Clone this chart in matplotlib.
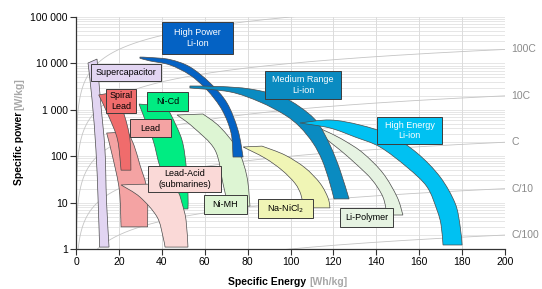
import numpy as np
import matplotlib
matplotlib.use("Agg")
import matplotlib.pyplot as plt
from matplotlib.patches import PathPatch, Rectangle
from matplotlib.path import Path
from matplotlib.ticker import FixedLocator, LogLocator, NullFormatter

plt.rcParams['font.family'] = ['Liberation Sans', 'DejaVu Sans']

# ---------------- data ----------------
x_ticks = [0, 20, 40, 60, 80, 100, 120, 140, 160, 180, 200]
y_ticks = [1, 10, 100, 1000, 10000, 100000]
y_tick_labels = ['1', '10', '100', '1 000', '10 000', '100 000']

rate_values = [1000, 100, 10, 1, 0.1, 0.01]
rate_labels = ['', '100C', '10C', 'C', 'C/10', 'C/100']

# technology regions: two boundary edges, each from top end to bottom end
# points are (specific energy Wh/kg, specific power W/kg)
supercap_a = [(5.6, 10200), (7.5, 1630), (9.3, 136), (10.3, 11.4), (11.0, 1.1)]
supercap_b = [(9.8, 12400), (11.4, 1630), (13.5, 136), (14.2, 11.4), (15.4, 1.1)]

lead_a = [(14.3, 316), (17.1, 96), (20.2, 18.7), (21.0, 3.0)]
lead_b = [(24.2, 333), (27.0, 174), (29.8, 65), (33.1, 18.7), (33.4, 3.0)]

spiral_a = [(10.6, 2090), (15.4, 700), (19.4, 223), (21.0, 50)]
spiral_b = [(15.9, 2300), (19.6, 1630), (22.8, 700), (25.2, 223), (25.6, 50)]

ni_cd_a = [(29.4, 1330), (31.7, 700), (35.9, 223), (39.2, 58), (43.8, 16.9), (47.6, 7.3)]
ni_cd_b = [(42.0, 1210), (44.8, 700), (49.4, 223), (51.3, 65), (52.2, 16.9), (52.2, 7.3)]

lead_sub_a = [(21.0, 24), (34.5, 25), (43.8, 23), (47.6, 16.9), (49.4, 9.8),
              (51.3, 4.2), (52.2, 1.1)]
lead_sub_b = [(21.0, 24), (29.8, 13.2), (37.8, 4.9), (40.6, 1.8), (41.5, 1.1)]

ni_mh_a = [(59.2, 811), (67.1, 426), (75.5, 136), (79.7, 36), (81.1, 8.4)]
ni_mh_b = [(47.1, 773), (54.5, 426), (64.8, 136), (68.5, 26), (70.9, 8.4)]

high_power_a = [(29.8, 13700), (34.5, 13400), (43.8, 12100), (53.1, 8400), (62.5, 3780),
                (70.4, 1400), (75.5, 367), (77.9, 96)]
high_power_b = [(29.8, 12900), (34.5, 11300), (43.8, 9250), (53.1, 5620), (61.1, 2670),
                (68.1, 990), (72.3, 316), (73.2, 96)]

na_nicl2_a = [(86.7, 165), (97.4, 106), (106.8, 56), (113.8, 26), (117.5, 12.6), (118.4, 7.7)]
na_nicl2_b = [(77.9, 158), (88.1, 91), (96.0, 50), (102.1, 26), (104.9, 14.6), (105.8, 7.7)]

li_polymer_a = [(110.0, 470), (118.4, 316), (125.4, 213), (133.8, 117), (143.1, 43),
                (149.7, 13.2), (152.4, 5.4)]
li_polymer_b = [(110.0, 470), (116.1, 247), (123.1, 136), (131.0, 65), (138.0, 31),
                (143.1, 13.2), (145.0, 5.4)]

medium_a = [(53.1, 3260), (67.1, 3180), (81.1, 2810), (95.1, 1980), (104.4, 1150),
            (112.4, 546), (118.4, 174), (123.1, 50), (127.3, 12.0)]
medium_b = [(53.1, 2950), (71.8, 2430), (85.8, 1470), (97.4, 773), (104.4, 426),
            (110.5, 192), (114.7, 83), (117.9, 31), (120.3, 12.0)]

high_energy_a = [(104.4, 520), (118.4, 603), (132.4, 470), (146.4, 286), (159.0, 117),
                 (169.7, 36), (176.7, 9.8), (179.0, 3.3), (180.0, 1.22)]
high_energy_b = [(104.4, 520), (118.4, 405), (130.1, 259), (141.7, 158), (154.3, 58),
                 (163.6, 22), (168.3, 6.9), (170.2, 3.3), (171.1, 1.22)]

regions = [
    (supercap_a, supercap_b, '#E2D5F2'),
    (lead_a, lead_b, '#F4A3A3'),
    (spiral_a, spiral_b, '#F06C6C'),
    (ni_cd_a, ni_cd_b, '#00EC82'),
    (lead_sub_a, lead_sub_b, '#FAD9D7'),
    (ni_mh_a, ni_mh_b, '#DDF5D3'),
    (high_power_a, high_power_b, '#0462C4'),
    (na_nicl2_a, na_nicl2_b, '#F0F5B5'),
    (li_polymer_a, li_polymer_b, '#E6F3E2'),
    (medium_a, medium_b, '#0A8BC1'),
    (high_energy_a, high_energy_b, '#00C1F2'),
]

# label boxes: text, E range, P range, face colour, text colour
labels = [
    ('High Power\nLi-Ion', 40.1, 73.2, 15950, 78000, '#0462C4', 'white'),
    ('Supercapacitor', 7.0, 39.6, 4180, 9700, '#E2D5F2', 'black'),
    ('Spiral\nLead', 14.0, 28.0, 853, 2810, '#F06C6C', 'black'),
    ('Ni-Cd', 33.1, 52.2, 942, 2420, '#00EC82', 'black'),
    ('Lead', 25.2, 44.3, 259, 634, '#F4A3A3', 'black'),
    ('Lead-Acid\n(submarines)', 33.6, 67.6, 16.9, 61.5, '#FAD9D7', 'black'),
    ('Ni-MH', 59.7, 79.7, 5.7, 14.6, '#DDF5D3', 'black'),
    ('Na-NiCl$_2$', 84.8, 110.5, 4.7, 12.0, '#F0F5B5', 'black'),
    ('Li-Polymer', 123.1, 147.8, 3.0, 7.7, '#E6F3E2', 'black'),
    ('Medium Range\nLi-ion', 88.1, 123.5, 1710, 6860, '#0A8BC1', 'white'),
    ('High Energy\nLi-ion', 140.3, 170.6, 183, 700, '#00C1F2', 'white'),
]


def smooth_edge(pts):
    """Bezier control points (Catmull-Rom) through the points in (E, log10 P) space."""
    q = np.array([(e, np.log10(p)) for e, p in pts])
    ext = np.vstack([q[0], q, q[-1]])
    out = []
    for i in range(len(q) - 1):
        p0, p1, p2, p3 = ext[i], ext[i + 1], ext[i + 2], ext[i + 3]
        out += [p1 + (p2 - p0) / 6, p2 - (p3 - p1) / 6, p2]
    return out


def region_path(edge_a, edge_b):
    qa = smooth_edge(edge_a)
    qb = smooth_edge(edge_b[::-1])
    start = (edge_a[0][0], np.log10(edge_a[0][1]))
    endb = (edge_b[-1][0], np.log10(edge_b[-1][1]))
    verts = [start] + qa + [endb] + qb + [start]
    codes = ([Path.MOVETO] + [Path.CURVE4] * len(qa) + [Path.LINETO]
             + [Path.CURVE4] * len(qb) + [Path.CLOSEPOLY])
    v = np.array(verts, dtype=float)
    v[:, 1] = 10 ** v[:, 1]
    return Path(v, codes)


# ---------------- figure ----------------
fig = plt.figure(figsize=(5.42, 2.89), dpi=100)
ax = fig.add_axes([76 / 542, 40 / 289, 429 / 542, 232 / 289])
ax.set_xlim(0, 200)
ax.set_yscale('log')
ax.set_ylim(1, 1e5)

ax.xaxis.set_major_locator(FixedLocator(x_ticks))
ax.set_xticklabels([str(t) for t in x_ticks])
ax.yaxis.set_major_locator(FixedLocator(y_ticks))
ax.set_yticklabels(y_tick_labels)
ax.yaxis.set_minor_locator(LogLocator(base=10, subs=np.arange(2, 10)))
ax.yaxis.set_minor_formatter(NullFormatter())
ax.tick_params(axis='both', which='major', labelsize=7.5, length=4, width=0.8,
               color='#333333', pad=2)
ax.tick_params(axis='y', which='minor', length=0)

ax.set_axisbelow(True)
ax.xaxis.grid(True, which='major', color='#D6D6D6', lw=0.6)
ax.yaxis.grid(True, which='both', color='#DCDCDC', lw=0.5)
for s in ['top', 'right']:
    ax.spines[s].set_visible(False)
for s in ['left', 'bottom']:
    ax.spines[s].set_color('#333333')
    ax.spines[s].set_linewidth(0.9)

# constant-rate lines P = rate * E
E = np.geomspace(1e-3, 200, 800)
for rate, lab in zip(rate_values, rate_labels):
    ax.plot(E, rate * E, color='#C4C4C4', lw=0.6, zorder=1)
    if lab:
        ax.text(203, rate * 200, lab, fontsize=7.5, color='#8A8A8A',
                ha='left', va='center', clip_on=False)

for ea, eb, col in regions:
    ax.add_patch(PathPatch(region_path(ea, eb), facecolor=col, edgecolor='#4A4A4A',
                           lw=0.5, zorder=3))

for text, e0, e1, p0, p1, fc, tc in labels:
    ax.add_patch(Rectangle((e0, p0), e1 - e0, p1 - p0, facecolor=fc,
                           edgecolor='#3C3C3C', lw=0.7, zorder=5))
    ax.text((e0 + e1) / 2, np.sqrt(p0 * p1), text, ha='center', va='center',
            fontsize=6.5, color=tc, zorder=6, linespacing=1.25)

# axis titles (bold black + grey units)
fig.text(306 / 542, 1 - 282 / 289, 'Specific Energy', ha='right', va='center',
         fontsize=7.5, fontweight='bold', color='black')
fig.text(309 / 542, 1 - 282 / 289, '[Wh/kg]', ha='left', va='center',
         fontsize=7.5, fontweight='bold', color='#A8A8A8')
fig.text(19 / 542, 1 - 112 / 289, 'Specific power', ha='center', va='top',
         rotation=90, fontsize=7.5, fontweight='bold', color='black')
fig.text(19 / 542, 1 - 110 / 289, '[W/kg]', ha='center', va='bottom',
         rotation=90, fontsize=7.5, fontweight='bold', color='#A8A8A8')

fig.savefig('out.png', dpi=100)
